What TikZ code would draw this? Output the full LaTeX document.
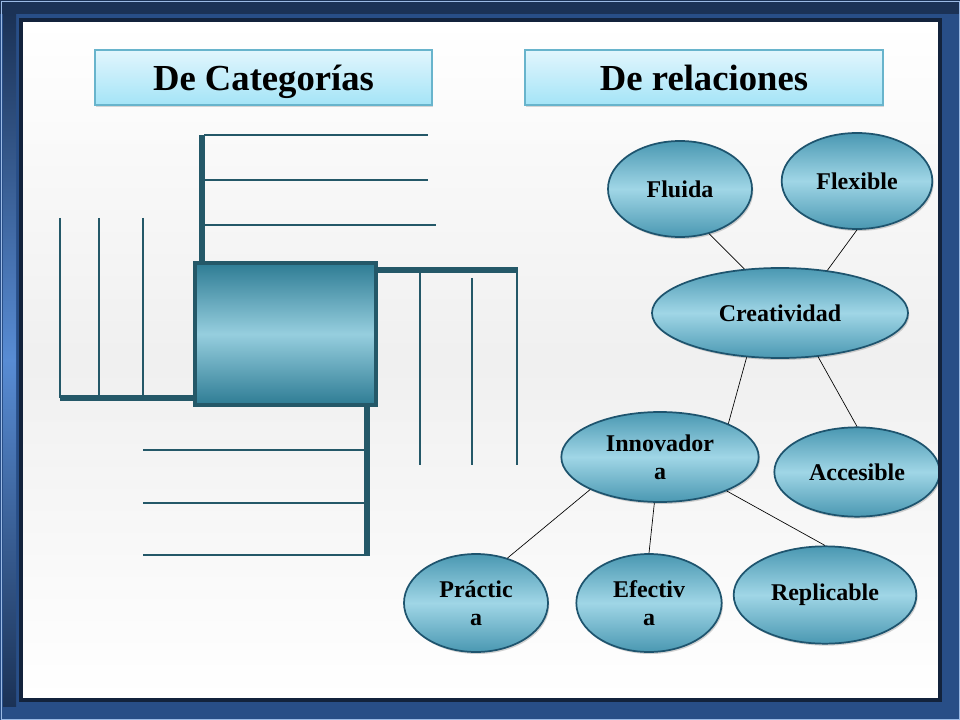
\documentclass[tikz,border=0pt]{standalone}
\usepackage{fontspec}
\setmainfont{Liberation Serif}
\usepackage{tikz}
\usetikzlibrary{shapes.geometric, shadows}

\definecolor{frameNavy}{RGB}{27,50,86}
\definecolor{frameBlue}{RGB}{40,78,135}
\definecolor{frameLight}{RGB}{88,140,212}
\definecolor{spine}{RGB}{36,88,104}
\definecolor{tealDark}{RGB}{46,124,148}
\definecolor{tealLight}{RGB}{150,206,222}
\definecolor{ideaEdge}{RGB}{30,84,110}
\definecolor{ideaOut}{RGB}{74,152,178}
\definecolor{ideaIn}{RGB}{160,214,230}
\definecolor{titleTop}{RGB}{226,246,253}
\definecolor{titleBot}{RGB}{164,228,247}
\definecolor{titleEdge}{RGB}{104,180,204}

\begin{document}
\begin{tikzpicture}[x=0.75pt, y=-0.75pt,
  idea/.style ={draw=ideaEdge, line width=1.3pt, ellipse, inner sep=0pt,
    top color=ideaOut, bottom color=ideaOut, middle color=ideaIn,
    font=\fontsize{18}{21}\selectfont\bfseries, align=center,
    drop shadow={opacity=0.35, shadow xshift=1pt, shadow yshift=-1.5pt}},
  %
  title/.style ={draw=titleEdge, line width=.8pt, inner sep=0pt,
    top color=titleTop, bottom color=titleBot, minimum height=41.25pt,
    text height=23pt, text depth=3pt,
    font=\fontsize{27.5}{30}\selectfont\bfseries,
    drop shadow={opacity=0.3, shadow xshift=1pt, shadow yshift=-1.5pt}},
  %
  thin/.style ={draw=spine, line width=.8pt},
  thick/.style ={draw=spine, line width=4pt},
  link/.style ={draw=black, line width=.5pt} ]

  \useasboundingbox (0,0) rectangle (960,720);

  %%%%%%%%%%%%%%%%%%%%%%%%%%%%%%% background
  \shade [top color=white, bottom color=white, middle color=black!6]
    (22,22) rectangle (938,698);

  %%%%%%%%%%%%%%%%%%%%%%%%%%%%%%% titles
  \node [title, minimum width=252.75pt] (tCat) at (263.5,77.5) {De Categorías};
  \node [title, minimum width=268.5pt] (tRel) at (704,77.5) {De relaciones};

  %%%%%%%%%%%%%%%%%%%%%%%%%%%%%%% de categorias
  \begin{scope}
    \shade [top color=tealDark, bottom color=tealDark, middle color=tealLight]
      (195,263) rectangle (376,405);
    \node [draw=spine, line width=2.5pt, minimum width=135.75pt,
      minimum height=106.5pt, inner sep=0pt] (core) at (285.5,334) {};
    % top
    \draw [thick] (202,135) -- (202,263);
    \foreach \y/\e in {135/428, 180/428, 225/436}
      \draw [thin] (204,\y) -- (\e,\y);
    % right
    \draw [thick] (376,270) -- (518,270);
    \draw [thin] (420,270) -- (420,465);
    \draw [thin] (472,278) -- (472,465);
    \draw [thin] (517,270) -- (517,465);
    % left
    \draw [thick] (60,398) -- (195,398);
    \foreach \x in {60, 99, 143}
      \draw [thin] (\x,218) -- (\x,398);
    % bottom
    \draw [thick] (367,405) -- (367,556);
    \foreach \y in {450, 503, 555}
      \draw [thin] (143,\y) -- (366,\y);
  \end{scope}

  %%%%%%%%%%%%%%%%%%%%%%%%%%%%%%% de relaciones
  \begin{scope}
    \node [idea, minimum width=108pt, minimum height=72pt] (Fluida) at (680,189) {Fluida};
    \node [idea, minimum width=113pt, minimum height=72pt] (Flexible) at (857,181) {Flexible};
    \node [idea, minimum width=192pt, minimum height=67.5pt] (Creatividad) at (780,313) {Creatividad};
    \node [idea, minimum width=148pt, minimum height=67.5pt] (Innovadora) at (660,457) {Innovador\\a};
    \node [idea, minimum width=124pt, minimum height=67pt] (Accesible) at (857,472) {Accesible};
    \node [idea, minimum width=108pt, minimum height=73.5pt] (Practica) at (476,603) {Práctic\\a};
    \node [idea, minimum width=109pt, minimum height=73.5pt] (Efectiva) at (649,603) {Efectiv\\a};
    \node [idea, minimum width=137pt, minimum height=73pt] (Replicable) at (825,595) {Replicable};
  \end{scope}

  \begin{scope}
    \draw [link] (Fluida.-57) -- (Creatividad.129);
    \draw [link] (Flexible.-90) -- (Creatividad.42);
    \draw [link] (Creatividad.-127) -- (Innovadora.26);
    \draw [link] (Creatividad.-49) -- (Accesible.90);
    \draw [link] (Innovadora.-155) -- (Practica.55);
    \draw [link] (Innovadora.-97) -- (Efectiva.90);
    \draw [link] (Innovadora.-27) -- (Replicable.90);
  \end{scope}

  %%%%%%%%%%%%%%%%%%%%%%%%%%%%%%% frame
  \fill [frameBlue, even odd rule] (0,0) rectangle (960,720) (22,22) rectangle (938,698);
  \fill [frameNavy] (0,0) rectangle (960,14);
  \shade [top color=frameNavy, bottom color=frameNavy, middle color=frameLight]
    (3,14) rectangle (16,706);
  \draw [frameNavy!70!black, line width=3pt] (20.5,20.5) rectangle (939.5,699.5);
  \draw [frameLight!60!white, line width=.6pt] (1,1) rectangle (959,719);

\end{tikzpicture}
\end{document}
